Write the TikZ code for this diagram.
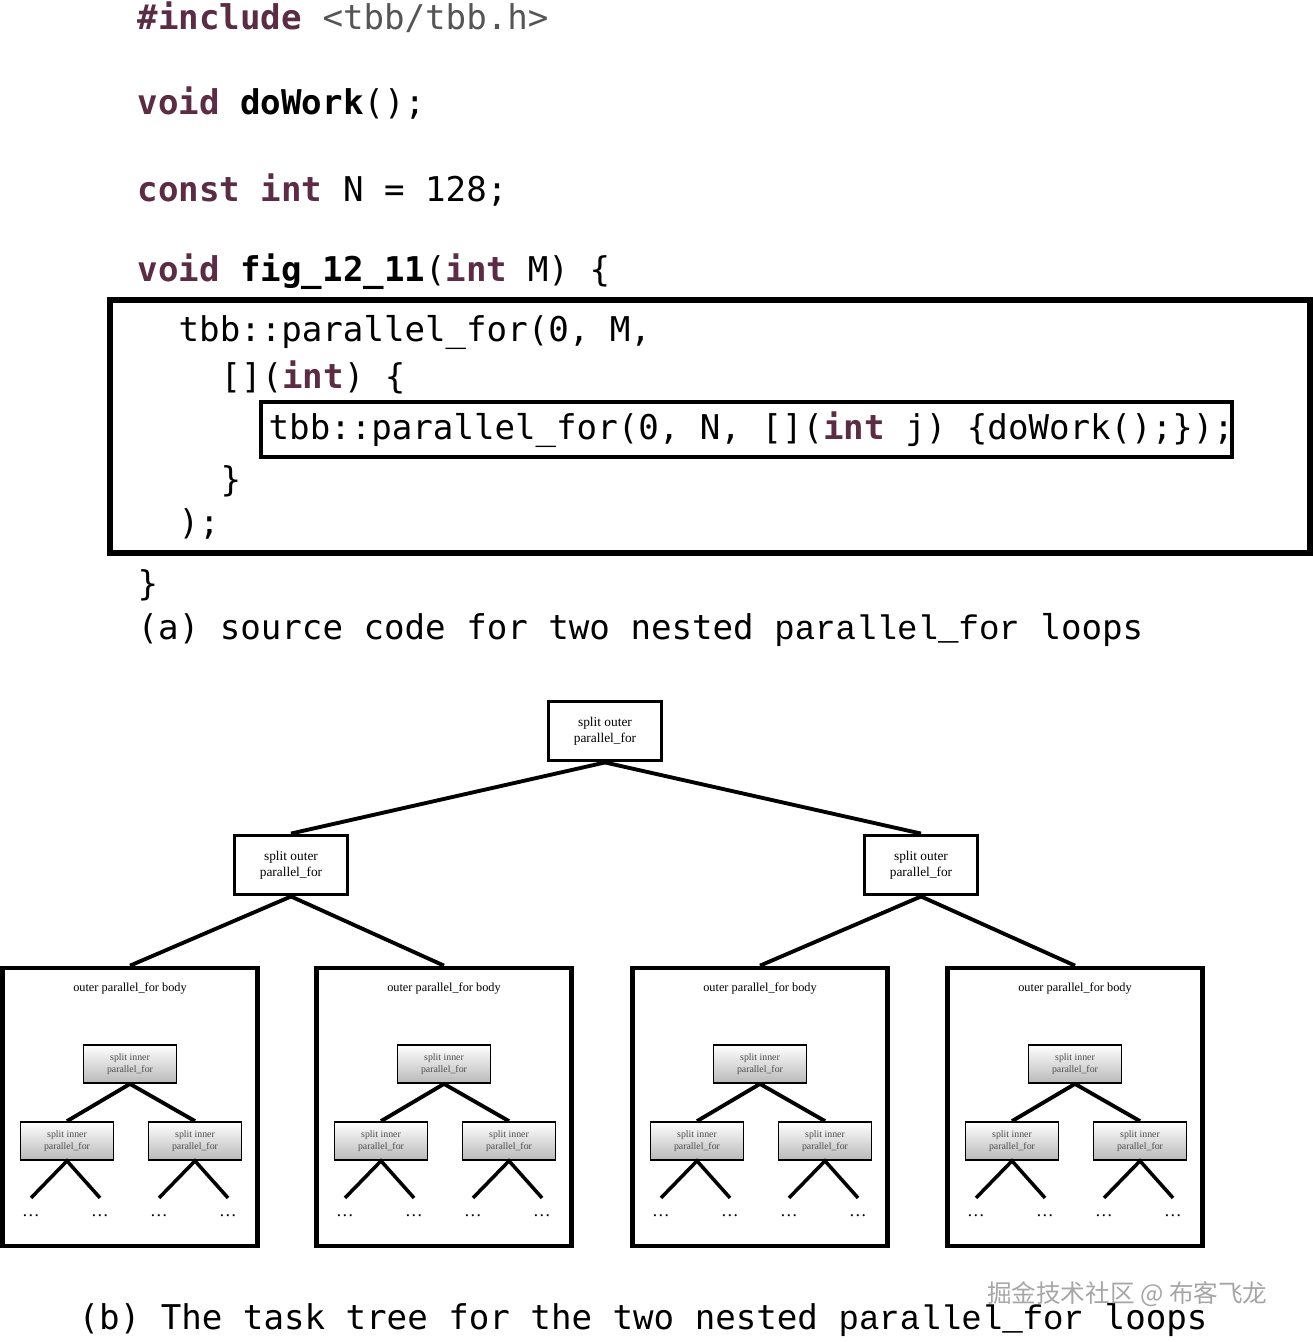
\documentclass[tikz,border=0pt]{standalone}
\usepackage{fontspec}
\setmainfont{Liberation Serif}
\setmonofont{DejaVu Sans Mono}
\newfontfamily\capmono{Liberation Mono}
\newfontfamily\cjk{Noto Sans CJK SC}
\usetikzlibrary{positioning}
\definecolor{kw}{HTML}{5B2C44}
\definecolor{inc}{HTML}{555555}
\tikzset{
    code/.style={anchor=west, inner sep=0pt, font=\fontsize{9.7}{11}\selectfont\ttfamily},
    frame/.style={draw, line width=1.6pt},
    split/.style={draw, line width=1.1pt, minimum width=1.13cm, minimum height=0.59cm, align=center, inner sep=1pt, font=\fontsize{3.8}{4.6}\selectfont},
    body/.style={draw, line width=1.3pt, minimum width=2.55cm, minimum height=2.78cm, inner sep=0pt},
    inner/.style={draw, line width=0.5pt, top color=white, bottom color=gray!55, minimum width=0.93cm, minimum height=0.38cm, align=center, inner sep=0.5pt, font=\fontsize{2.8}{3.3}\selectfont, text=black!70},
    link/.style={line width=1.1pt},
    leg/.style={line width=1pt},
}
\newcommand{\kwd}[1]{\textbf{\textcolor{kw}{#1}}}
\begin{document}
\begin{tikzpicture}[x=0.01cm, y=-0.01cm]
\useasboundingbox (0,0) rectangle (1313,1342);

% (a) source code
\node[code] (l1) at (137,17) {\kwd{\#include} \textcolor{inc}{<tbb/tbb.h>}};
\node[code] (l2) at (137,103) {\kwd{void} \textbf{doWork}();};
\node[code] (l3) at (137,190) {\kwd{const} \kwd{int} N = 128;};
\node[code] (l4) at (137,272) {\kwd{void} \textbf{fig\_12\_11}(\kwd{int} M) \{};
\node[code] (l5) at (178,332) {tbb::parallel\_for(0, M,};
\node[code] (l6) at (220,377) {[](\kwd{int}) \{};
\node[code] (l7) at (268,430) {tbb::parallel\_for(0, N, [](\kwd{int} j) \{doWork();\});};
\node[code] (l8) at (220,481) {\}};
\node[code] (l9) at (178,524) {);};
\node[code] (l10) at (137,585) {\}};
\draw[frame] (110,300) rectangle (1310,553);
\draw[frame, line width=1.4pt] (261,402) rectangle (1232,457);
\node[code] (capa) at (137,630) {(a) source code for two nested {\capmono parallel\_for} loops};

% (b) task tree
\node[split] (root) at (605,731) {split outer\\parallel\_for};
\node[split] (s1) at (291,865) {split outer\\parallel\_for};
\node[split] (s2) at (921,865) {split outer\\parallel\_for};
\draw[link] (root.south) -- (s1.north);
\draw[link] (root.south) -- (s2.north);

\foreach \bx/\up in {130/s1, 444/s1, 760/s2, 1075/s2} {
    \node[body] (b\bx) at (\bx,1107) {};
    \draw[link] (\up.south) -- (b\bx.north);
    \node[font=\fontsize{3.5}{4}\selectfont] (t\bx) at (\bx,988) {outer parallel\_for body};
    \node[inner] (i\bx) at (\bx,1064) {split inner\\parallel\_for};
    \node[inner] (il\bx) at (\bx-63,1141) {split inner\\parallel\_for};
    \node[inner] (ir\bx) at (\bx+65,1141) {split inner\\parallel\_for};
    \draw[link] (i\bx.south) -- (il\bx.north);
    \draw[link] (i\bx.south) -- (ir\bx.north);
    \foreach \c in {il,ir} {
        \coordinate (\c a\bx) at ([xshift=-0.36cm, yshift=-0.37cm]\c\bx.south);
        \coordinate (\c b\bx) at ([xshift=0.33cm, yshift=-0.37cm]\c\bx.south);
        \draw[leg] (\c a\bx) -- (\c\bx.south) -- (\c b\bx);
        \node[font=\tiny] (\c da\bx) at ([yshift=-0.18cm]\c a\bx) {\dots};
        \node[font=\tiny] (\c db\bx) at ([yshift=-0.18cm]\c b\bx) {\dots};
    }
}

\node[code] (capb) at (78,1320) {(b) The task tree for the two nested {\capmono parallel\_for} loops};
\node[font=\fontsize{7}{8}\selectfont\cjk, text=gray!70, anchor=east] (wm) at (1280,1294) {掘金技术社区 @ 布客飞龙};
\end{tikzpicture}
\end{document}
